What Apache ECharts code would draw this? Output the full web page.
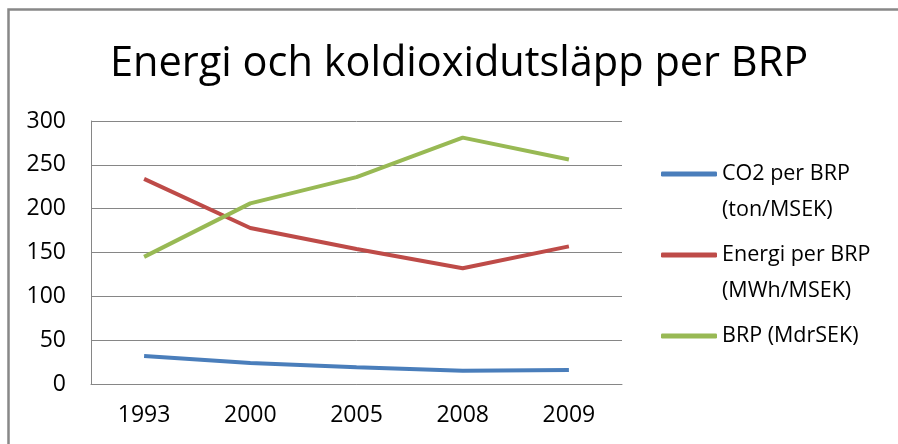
<!DOCTYPE html>
<html>
<head>
<meta charset="utf-8">
<script src="https://cdn.jsdelivr.net/npm/echarts@6/dist/echarts.min.js"></script>
<style>
  html, body { margin: 0; padding: 0; background: #fff; }
  #chart { width: 898px; height: 444px; }
</style>
</head>
<body>
<div id="chart"></div>
<script>
// data
const years = ['1993', '2000', '2005', '2008', '2009'];
const co2PerBrp = [32, 24, 19, 15, 16];
const energiPerBrp = [234, 178, 154, 132, 157];
const brp = [145, 206, 236, 281, 256];
const yTicks = { min: 0, max: 300, interval: 50 };

// leading / trailing empty line keeps the legend line next to the first text line
const seriesNames = [
  '\nCO2 per BRP\n(ton/MSEK)',
  '\nEnergi per BRP\n(MWh/MSEK)',
  '\nBRP (MdrSEK)\n'
];
const colors = ['#4A7EBB', '#BE4B48', '#98B954'];
const font = 'Open Sans';

const makeLine = (name, data, color) => ({
  name: name,
  type: 'line',
  data: data,
  symbol: 'none',
  lineStyle: { width: 4, color: color },
  itemStyle: { color: color },
  silent: true
});

const option = {
  animation: false,
  color: colors,
  title: {
    text: 'Energi och koldioxidutsläpp per BRP',
    left: 110,
    top: 43,
    padding: 0,
    textStyle: { fontFamily: font, fontSize: 41.5, fontWeight: 'normal', color: '#000' }
  },
  graphic: [{
    type: 'rect',
    shape: { x: 8.5, y: 9.5, width: 1000, height: 1000 },
    style: { fill: 'none', stroke: '#888888', lineWidth: 2.5 },
    silent: true
  }],
  legend: {
    orient: 'vertical',
    left: 661,
    top: 120,
    padding: 0,
    itemGap: -27,
    itemWidth: 56,
    itemHeight: 5,
    icon: 'roundRect',
    selectedMode: false,
    data: seriesNames,
    textStyle: { fontFamily: font, fontSize: 21.5, lineHeight: 36, color: '#000' }
  },
  grid: { left: 91, top: 121, width: 531, height: 263, containLabel: false },
  xAxis: {
    type: 'category',
    data: years,
    boundaryGap: true,
    axisLine: { lineStyle: { color: '#868686', width: 1 } },
    axisTick: { show: false },
    axisLabel: { fontFamily: font, fontSize: 23, color: '#000', margin: 20 }
  },
  yAxis: {
    type: 'value',
    min: yTicks.min,
    max: yTicks.max,
    interval: yTicks.interval,
    axisLine: { show: true, lineStyle: { color: '#868686', width: 1 } },
    axisTick: { show: false },
    splitLine: { lineStyle: { color: '#868686', width: 1 } },
    axisLabel: { fontFamily: font, fontSize: 23, color: '#000', margin: 25 }
  },
  series: [
    makeLine(seriesNames[0], co2PerBrp, colors[0]),
    makeLine(seriesNames[1], energiPerBrp, colors[1]),
    makeLine(seriesNames[2], brp, colors[2])
  ]
};

const myChart = echarts.init(document.getElementById('chart'));
myChart.setOption(option);
</script>
</body>
</html>
